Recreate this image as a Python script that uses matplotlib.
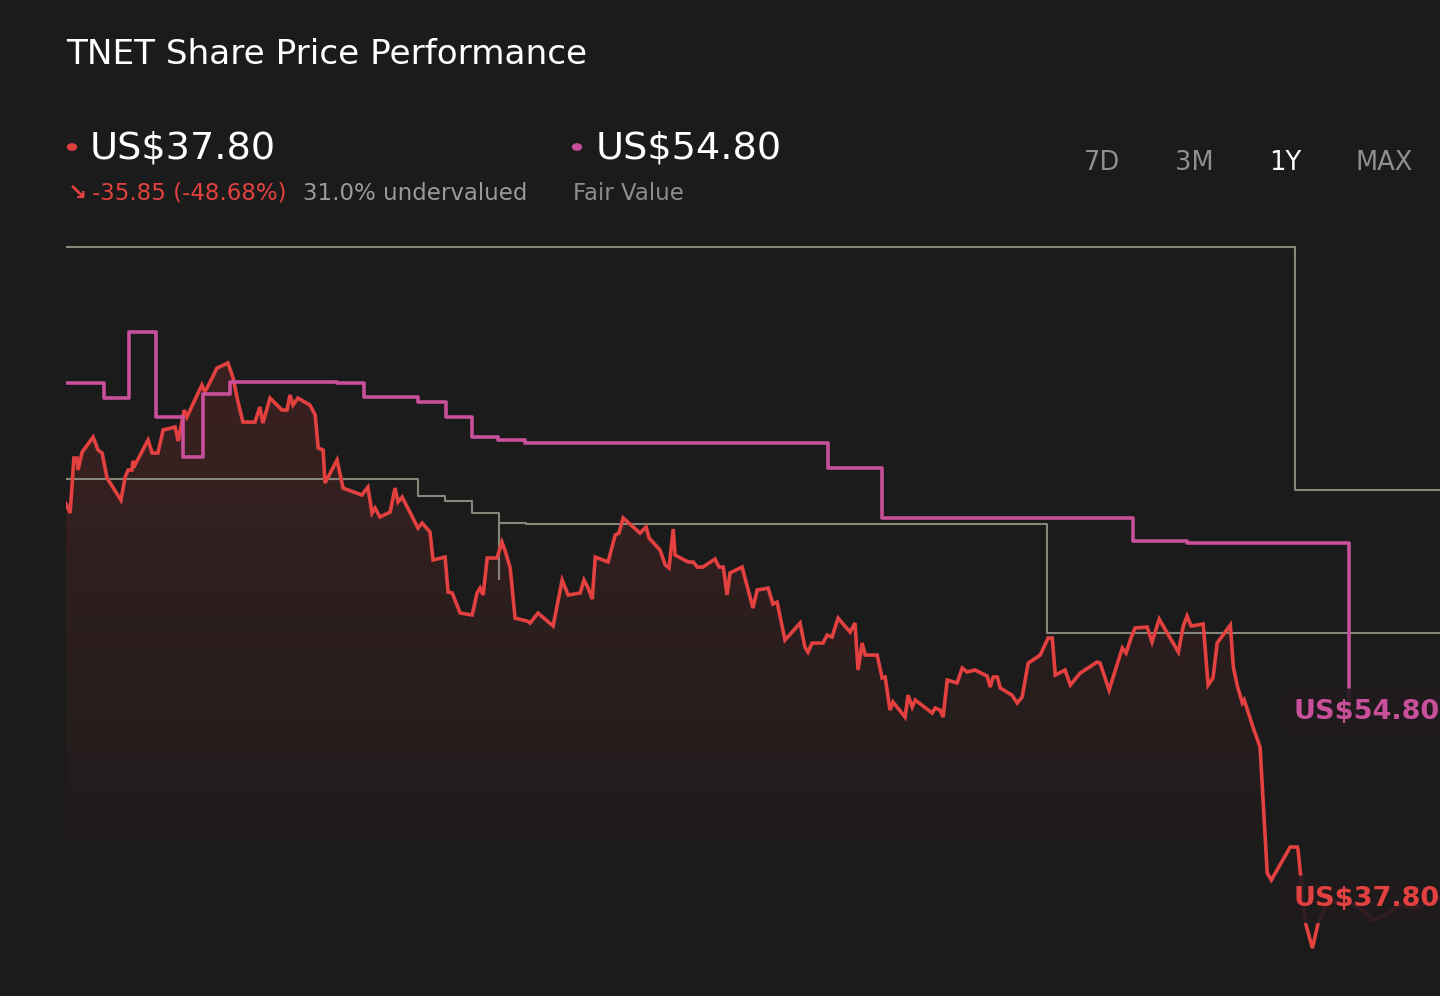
import numpy as np
import matplotlib
matplotlib.use("Agg")
import matplotlib.pyplot as plt

# ---------------- data ----------------
price_days = [0.0, 1.1, 2.1, 2.9, 3.2, 4.3, 7.2, 8.5, 9.6, 10.9, 14.6, 15.7, 16.5, 17.5, 17.8, 18.3,
              21.8, 22.9, 24.4, 25.8, 29.0, 29.8, 31.4, 32.1, 36.1, 36.9, 38.8, 40.1, 43.0, 44.4,
              45.7, 47.0, 50.2, 51.5, 52.3, 54.2, 57.4, 58.7, 59.5, 60.3, 61.6, 64.8, 66.2, 67.0,
              68.3, 68.8, 72.0, 73.6, 78.6, 80.2, 81.3, 82.1, 83.4, 86.1, 87.4, 88.2, 89.3, 93.5,
              94.6, 96.7, 97.5, 100.7, 101.5, 102.6, 104.7, 107.9, 109.2, 110.0, 110.8, 111.9,
              114.5, 115.8, 116.6, 118.0, 119.3, 122.5, 123.3, 125.4, 129.4, 131.8, 133.4, 136.6,
              137.6, 138.7, 139.8, 140.6, 144.0, 145.9, 146.9, 148.0, 152.5, 154.1, 154.9, 157.8,
              159.2, 160.2, 161.3, 161.8, 165.3, 166.6, 167.7, 169.2, 172.4, 173.5, 174.6, 175.6,
              176.4, 179.6, 182.5, 183.6, 186.5, 187.8, 188.9, 191.0, 195.0, 196.3, 197.1, 198.2,
              201.1, 202.2, 203.5, 205.1, 208.3, 209.6, 210.4, 211.5, 212.3, 215.5, 216.8, 217.6,
              218.9, 219.7, 222.9, 223.7, 224.8, 225.6, 230.1, 230.9, 232.2, 233.0, 234.1, 236.7,
              238.1, 239.4, 241.5, 244.7, 245.5, 246.3, 247.4, 248.2, 251.3, 252.7, 254.0, 255.6,
              258.8, 260.9, 262.0, 262.8, 265.4, 266.8, 269.4, 273.9, 274.7, 277.1, 280.6, 281.6,
              283.0, 284.0, 287.2, 288.5, 290.4, 295.5, 296.8, 297.8, 298.9, 302.1, 303.4, 304.7,
              305.8, 309.3, 310.1, 311.1, 312.5, 313.0, 315.4, 317.2, 319.1, 320.2, 325.2, 327.1,
              327.3, 329.2, 331.1, 332.7, 334.9, 338.5, 342.5, 345.1, 347.3, 350.4, 354.4, 358.4,
              362.4, 365.0]
price_values = [73.65, 72.80, 77.80, 77.80, 76.71, 78.35, 79.71, 78.53, 78.25, 75.98, 73.98, 76.07,
                76.71, 76.71, 77.53, 77.16, 79.44, 78.25, 78.25, 80.35, 80.62, 79.35, 82.16, 81.53,
                84.44, 83.80, 85.07, 85.98, 86.44, 85.07, 82.89, 81.07, 81.07, 82.44, 80.98, 83.25,
                82.16, 82.16, 83.53, 82.62, 83.25, 82.62, 81.71, 78.71, 78.53, 75.53, 77.62, 75.07,
                74.44, 75.16, 72.80, 73.25, 72.44, 72.89, 75.07, 73.80, 74.25, 71.44, 71.89, 71.07,
                68.53, 68.80, 65.62, 65.53, 63.71, 63.53, 65.53, 65.98, 65.35, 68.71, 68.71, 70.16,
                69.44, 67.80, 63.25, 62.98, 62.80, 63.71, 62.53, 66.71, 65.35, 65.53, 66.71, 65.98,
                64.98, 68.80, 68.35, 70.80, 70.98, 72.35, 70.98, 71.53, 70.53, 69.44, 68.07, 67.80,
                71.35, 68.98, 68.35, 68.35, 67.89, 67.89, 68.62, 67.89, 67.89, 65.35, 67.35, 67.89,
                64.16, 65.80, 65.98, 64.53, 64.71, 61.25, 62.80, 60.62, 60.16, 60.98, 60.98, 61.71,
                61.53, 63.25, 61.98, 62.80, 58.53, 60.98, 59.89, 59.89, 57.80, 57.89, 54.89, 55.62,
                54.25, 56.25, 55.16, 55.80, 54.62, 55.07, 54.89, 54.25, 57.62, 57.35, 58.71, 58.35,
                58.53, 57.98, 56.98, 57.89, 57.89, 56.89, 56.25, 55.53, 56.07, 59.16, 59.89, 61.44,
                61.44, 58.07, 58.53, 57.16, 58.25, 59.25, 59.16, 56.71, 60.53, 60.07, 61.53, 62.35,
                62.44, 61.07, 63.16, 60.16, 62.53, 63.44, 62.53, 62.71, 57.16, 57.80, 60.98, 62.62,
                58.80, 57.16, 55.53, 55.80, 53.25, 51.53, 40.07, 39.44, 42.44, 42.44, 42.16, 35.62,
                33.25, 35.62, 37.16, 37.62, 37.16, 36.53, 35.80, 36.25, 37.16, 36.89, 37.44, 37.80]

fv_days = [0, 10.1, 16.7, 23.9, 31.1, 36.4, 43.6, 72.0, 79.2, 93.5, 101.0, 107.9, 114.8, 121.9,
           202.5, 216.8, 283.5, 297.8, 340.9]
fv_values = [84.62, 83.25, 89.25, 81.53, 77.89, 83.62, 84.71, 84.62, 83.35, 82.89, 81.53, 79.71,
             79.44, 79.16, 76.89, 72.35, 70.25, 70.07, 54.80]

high_days = [0, 326.5, 365]
high_values = [97.0, 74.89, 74.89]

low_days = [0, 93.5, 100.7, 107.9, 115.0, 115.0, 122.2, 260.6, 365]
low_values = [75.89, 74.35, 73.89, 72.80, 66.80, 71.89, 71.80, 61.89, 61.89]

last_price = 37.80
fair_value = 54.80
time_buttons = ["7D", "3M", "1Y", "MAX"]

# ---------------- style ----------------
BG = "#1b1b1b"
RED = "#e2413f"
PINK = "#c8509a"
GREY = "#86867a"

W, H = 1440, 996
fig = plt.figure(figsize=(W / 100, H / 100), dpi=100, facecolor=BG)

ax_left, ax_right = 66 / W, 1.0
ax_top_px, ax_bot_px = 230, 980
ax = fig.add_axes([ax_left, 1 - ax_bot_px / H, ax_right - ax_left, (ax_bot_px - ax_top_px) / H])
ax.set_facecolor(BG)
ymin, ymax = 30.35, 98.53
ax.set_xlim(0, 365)
ax.set_ylim(ymin, ymax)
ax.axis("off")

# gradient fill under the price line
poly = ax.fill_between(price_days, price_values, ymin, facecolor="none", edgecolor="none")
clip_path = poly.get_paths()[0]
n = 256
ys = np.linspace(ymax, ymin, n)
alpha = np.clip((ys - 36.0) / (90.0 - 36.0), 0, 1) * 0.18
rgba = np.zeros((n, 1, 4))
rgba[:, 0, 0] = 0.88
rgba[:, 0, 1] = 0.25
rgba[:, 0, 2] = 0.25
rgba[:, 0, 3] = alpha
img = ax.imshow(rgba, extent=[0, 365, ymin, ymax], aspect="auto", origin="upper", zorder=1)
img.set_clip_path(clip_path, transform=ax.transData)

ax.plot(high_days, high_values, drawstyle="steps-post", color=GREY, lw=1.5, zorder=2)
ax.plot(low_days, low_values, drawstyle="steps-post", color=GREY, lw=1.5, zorder=2)
ax.plot(price_days, price_values, color=RED, lw=2.6, zorder=3, solid_joinstyle="miter")
ax.plot(fv_days, fv_values, drawstyle="steps-post", color=PINK, lw=2.6, zorder=4)

# right-side value labels
box = dict(boxstyle="round,pad=0.4,rounding_size=0.25", facecolor="#201a1d", edgecolor="none", alpha=0.9)
ax.text(326.0, fair_value - 0.12, f"US${fair_value:.2f}", color=PINK, fontsize=19.5, fontweight="bold",
        va="center", ha="left", zorder=6, clip_on=False, bbox=box)
ax.text(326.0, last_price - 0.12, f"US${last_price:.2f}", color=RED, fontsize=19.5, fontweight="bold",
        va="center", ha="left", zorder=6, clip_on=False, bbox=box)

# ---------------- header ----------------
def fx(px):
    return px / W

def fy(py):
    return 1 - py / H

fig.text(fx(66), fy(54), "TNET Share Price Performance", color="white", fontsize=24.7,
         va="center", ha="left")

fig.patches.append(plt.Circle((fx(72), fy(147)), 4.5 / W, transform=fig.transFigure,
                              color=RED, figure=fig))
fig.text(fx(90), fy(148), f"US${last_price:.2f}", color="white", fontsize=27.5, va="center", ha="left")
fig.text(fx(68), fy(193), "\u2198", color=RED, fontsize=16.5, va="center", ha="left", fontweight="bold")
fig.text(fx(92), fy(193), "-35.85 (-48.68%)", color=RED, fontsize=16.5, va="center", ha="left")
fig.text(fx(303), fy(193), "31.0% undervalued", color="#9a9a9a", fontsize=16.5, va="center", ha="left")

fig.patches.append(plt.Circle((fx(577), fy(147)), 4.5 / W, transform=fig.transFigure,
                              color=PINK, figure=fig))
fig.text(fx(596), fy(148), f"US${fair_value:.2f}", color="white", fontsize=27.5, va="center", ha="left")
fig.text(fx(573), fy(193), "Fair Value", color="#8e8e8e", fontsize=16.5, va="center", ha="left")

for label, cx in zip(time_buttons, [1102, 1194, 1285, 1384]):
    fig.text(fx(cx), fy(163), label, color="white" if label == "1Y" else "#8f8f8f",
             fontsize=18.5, va="center", ha="center")

fig.savefig("out.png", dpi=100, facecolor=BG)
